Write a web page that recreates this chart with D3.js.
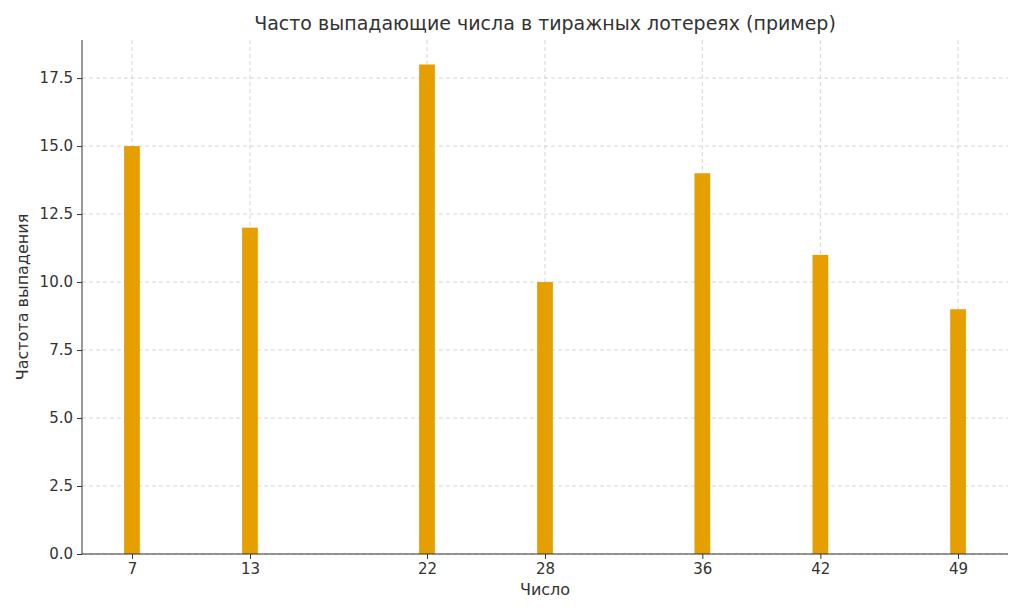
<!DOCTYPE html>
<html>
<head>
<meta charset="utf-8">
<script src="https://cdn.jsdelivr.net/npm/d3@7"></script>
<style>
body { margin: 0; background: #fff; }
text { font-family: "DejaVu Sans", sans-serif; fill: #333; }
</style>
</head>
<body>
<svg id="chart" width="1024" height="614"></svg>
<script>
var numbers = [7, 13, 22, 28, 36, 42, 49];
var counts = [15, 12, 18, 10, 14, 11, 9];
var yTicks = [0, 2.5, 5, 7.5, 10, 12.5, 15, 17.5];

var svg = d3.select("#chart");
var mLeft = 82, mRight = 1008, mTop = 40, mBottom = 554;

var x = d3.scaleLinear().domain([4.46, 51.54]).range([mLeft, mRight]);
var y = d3.scaleLinear().domain([0, 18.9]).range([mBottom, mTop]);
var barW = 0.8;

// grid
svg.append("g").selectAll("line").data(numbers).enter().append("line")
	.attr("x1", function(d){ return x(d); }).attr("x2", function(d){ return x(d); })
	.attr("y1", mTop).attr("y2", mBottom)
	.attr("stroke", "#ccc").attr("stroke-dasharray", "4,3").attr("stroke-width", 0.8);
svg.append("g").selectAll("line").data(yTicks).enter().append("line")
	.attr("x1", mLeft).attr("x2", mRight)
	.attr("y1", function(d){ return y(d); }).attr("y2", function(d){ return y(d); })
	.attr("stroke", "#ccc").attr("stroke-dasharray", "4,3").attr("stroke-width", 0.8);

// bars
svg.append("g").selectAll("rect").data(numbers).enter().append("rect")
	.attr("x", function(d){ return x(d - barW/2); })
	.attr("width", function(d){ return x(d + barW/2) - x(d - barW/2); })
	.attr("y", function(d, i){ return y(counts[i]); })
	.attr("height", function(d, i){ return y(0) - y(counts[i]); })
	.attr("fill", "#E69F00");

// axes
var xAxis = svg.append("g").attr("transform", "translate(0," + mBottom + ")")
	.call(d3.axisBottom(x).tickValues(numbers).tickSize(5).tickPadding(4));
var yAxis = svg.append("g").attr("transform", "translate(" + mLeft + ",0)")
	.call(d3.axisLeft(y).tickValues(yTicks).tickFormat(d3.format(".1f")).tickSize(5).tickPadding(4));
[xAxis, yAxis].forEach(function(a){
	a.selectAll("text").style("font-size", "15px").style("font-family", "DejaVu Sans").attr("fill", "#333");
	a.selectAll("line,path").attr("stroke", "#333");
});
xAxis.select(".domain").attr("d", "M" + mLeft + ",0H" + mRight);
yAxis.select(".domain").attr("d", "M0," + mTop + "V" + mBottom);

svg.append("text").attr("x", 545).attr("y", 30).attr("text-anchor", "middle")
	.style("font-size", "19px").text("Часто выпадающие числа в тиражных лотереях (пример)");
svg.append("text").attr("x", 545).attr("y", 595).attr("text-anchor", "middle")
	.style("font-size", "16px").text("Число");
svg.append("text").attr("transform", "translate(28,297) rotate(-90)").attr("text-anchor", "middle")
	.style("font-size", "16px").text("Частота выпадения");
</script>
</body>
</html>
